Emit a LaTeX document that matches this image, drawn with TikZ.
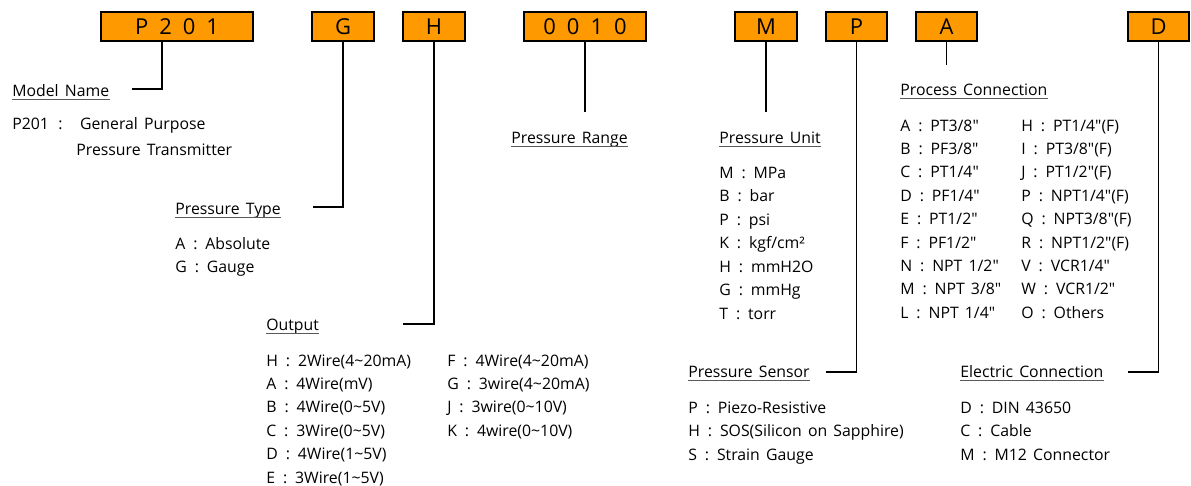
\documentclass[tikz,border=0pt]{standalone}
\usepackage{fontspec}
\setmainfont{Open Sans}[WordSpace=1.5, Ligatures=TeXOff]
\usetikzlibrary{positioning}
\definecolor{codeorange}{RGB}{255,153,0}
\newcommand{\kc}{\hspace{.5em}:\hspace{.5em}}
\newcommand{\tld}{\textasciitilde}

\begin{document}
\begin{tikzpicture}[
    x=0.02cm, y=-0.02cm,
    codebox/.style={draw=black, line width=1.4pt, fill=codeorange,
        minimum height=0.58cm, inner sep=0pt, font=\fontsize{12.5}{14}\selectfont},
    head/.style={anchor=base west, inner sep=0pt, font=\fontsize{9}{11}\selectfont},
    item/.style={anchor=base west, inner sep=0pt, font=\fontsize{9}{11}\selectfont},
    conn/.style={line width=1.1pt},
    uline/.style={line width=0.6pt, black!65},
]
\useasboundingbox (0,0) rectangle (1191,485);

% === CODE BOXES ===
\node[codebox, minimum width=3.04cm] (bModel) at (177,26.5) {P\hspace{.5em}2\hspace{.5em}0\hspace{.5em}1};
\node[codebox, minimum width=1.24cm] (bType) at (343,26.5) {G};
\node[codebox, minimum width=1.24cm] (bOut) at (434,26.5) {H};
\node[codebox, minimum width=2.44cm] (bRange) at (585,26.5) {0\hspace{.5em}0\hspace{.5em}1\hspace{.5em}0};
\node[codebox, minimum width=1.24cm] (bUnit) at (766,26.5) {M};
\node[codebox, minimum width=1.22cm] (bSensor) at (856.5,26.5) {P};
\node[codebox, minimum width=1.22cm] (bProc) at (946.5,26.5) {A};
\node[codebox, minimum width=1.22cm] (bElec) at (1158.5,26.5) {D};

% === HEADINGS ===
\node[head] (hModel) at (12,96) {Model Name};
\node[head] (hType) at (175,214) {Pressure Type};
\node[head] (hOut) at (266,330) {Output};
\node[head] (hRange) at (511,143) {Pressure Range};
\node[head] (hUnit) at (719,143) {Pressure Unit};
\node[head] (hProc) at (900,95) {Process Connection};
\node[head] (hSensor) at (688,377) {Pressure Sensor};
\node[head] (hElec) at (960,377) {Electric Connection};
\foreach \h in {hModel,hType,hOut,hRange,hUnit,hProc,hSensor,hElec}
    \draw[uline] ([yshift=-2.2pt]\h.base west) -- ([yshift=-2.2pt]\h.base east);

% === CONNECTORS ===
\coordinate (cModel) at (132,89);
\coordinate (cType) at (313,207);
\coordinate (cOut) at (403,324);
\coordinate (cRange) at (585,112);
\coordinate (cUnit) at (766,112);
\coordinate (cSensor) at (826,372);
\coordinate (cProc) at (946.5,65);
\coordinate (cElec) at (1128,372);
\draw[conn] ([xshift=-0.3cm]bModel.south) |- (cModel);
\draw[conn] (bType.south) |- (cType);
\draw[conn] (bOut.south) |- (cOut);
\draw[conn] (bRange.south) -- (cRange);
\draw[conn] (bUnit.south) -- (cUnit);
\draw[conn] (bSensor.south) |- (cSensor);
\draw[conn] (bProc.south) -- (cProc);
\draw[conn] (bElec.south) |- (cElec);

% Model name
\node[item] (mod1) at (12,129) {P201\hspace{.6em}:\hspace{1.1em}General Purpose};
\node[item] (mod2) at (76,155) {Pressure Transmitter};

% Pressure type
\node[item] (typ1) at (175,249) {A\kc Absolute};
\node[item] (typ2) at (175,272) {G\kc Gauge};

% Output
\foreach \t [count=\i from 0] in {{H\kc 2Wire(4\tld20mA)}, {A\kc 4Wire(mV)},
    {B\kc 4Wire(0\tld5V)}, {C\kc 3Wire(0\tld5V)}, {D\kc 4Wire(1\tld5V)}, {E\kc 3Wire(1\tld5V)}}
    \node[item] (outa\i) at (266,{366+23.4*\i}) {\t};
\foreach \t [count=\i from 0] in {{F\kc 4Wire(4\tld20mA)}, {G\kc 3wire(4\tld20mA)},
    {J\kc 3wire(0\tld10V)}, {K\kc 4wire(0\tld10V)}}
    \node[item] (outb\i) at (447,{366+23.4*\i}) {\t};

% Pressure unit
\foreach \t [count=\i from 0] in {{M\kc MPa}, {B\kc bar}, {P\kc psi}, {K\kc kgf/cm²},
    {H\kc mmH2O}, {G\kc mmHg}, {T\kc torr}}
    \node[item] (unit\i) at (719,{178+23.5*\i}) {\t};

% Process connection
\foreach \t [count=\i from 0] in {{A\kc PT3/8"}, {B\kc PF3/8"}, {C\kc PT1/4"}, {D\kc PF1/4"},
    {E\kc PT1/2"}, {F\kc PF1/2"}, {N\kc NPT 1/2"}, {M\kc NPT 3/8"}, {L\kc NPT 1/4"}}
    \node[item] (proca\i) at (900,{131+23.4*\i}) {\t};
\foreach \t [count=\i from 0] in {{H\kc PT1/4"(F)}, {I\kc PT3/8"(F)}, {J\kc PT1/2"(F)},
    {P\kc NPT1/4"(F)}, {Q\kc NPT3/8"(F)}, {R\kc NPT1/2"(F)}, {V\kc VCR1/4"},
    {W\kc VCR1/2"}, {O\kc Others}}
    \node[item] (procb\i) at (1021,{131+23.4*\i}) {\t};

% Pressure sensor
\foreach \t [count=\i from 0] in {{P\kc Piezo-Resistive}, {H\kc SOS(Silicon on Sapphire)},
    {S\kc Strain Gauge}}
    \node[item] (sens\i) at (688,{413+23.5*\i}) {\t};

% Electric connection
\foreach \t [count=\i from 0] in {{D\kc DIN 43650}, {C\kc Cable}, {M\kc M12 Connector}}
    \node[item] (elec\i) at (960,{413+23.5*\i}) {\t};

\end{tikzpicture}
\end{document}
